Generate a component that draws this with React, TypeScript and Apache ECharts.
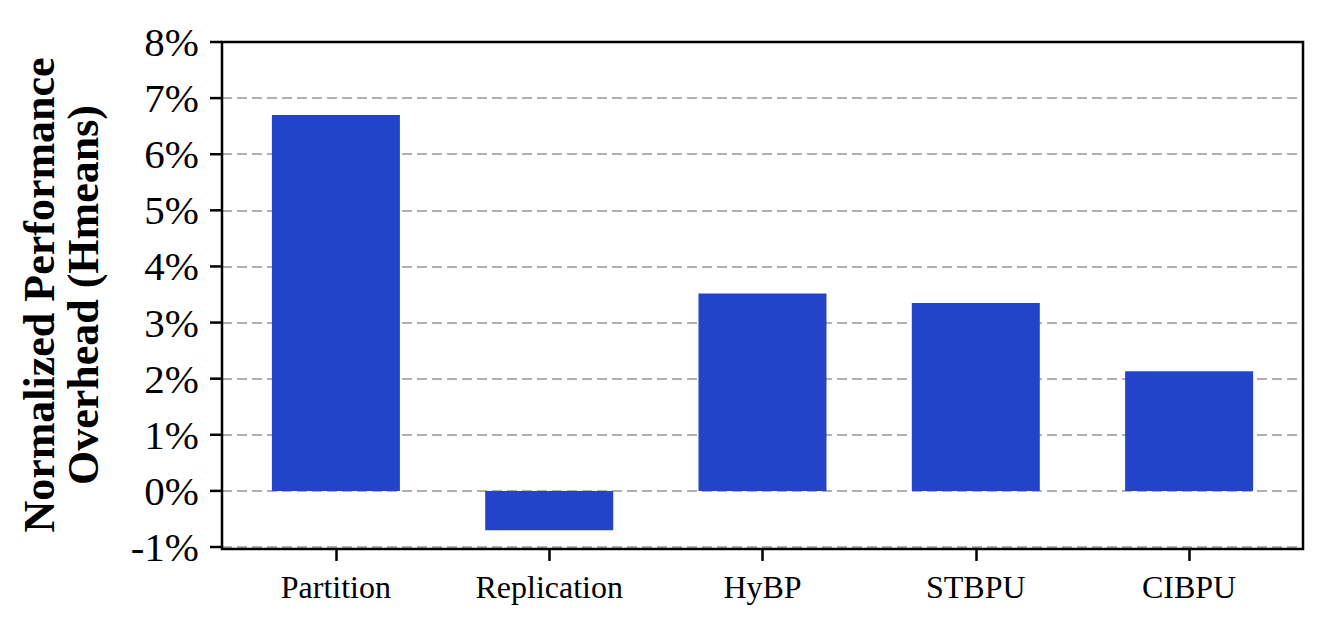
import React, { useEffect, useRef } from "react";
import * as echarts from "echarts";

const categories = ["Partition", "Replication", "HyBP", "STBPU", "CIBPU"];
const overheadValues = [6.7, -0.7, 3.52, 3.35, 2.13];
const yTicks = [-1, 0, 1, 2, 3, 4, 5, 6, 7, 8];
const yTitle = "Normalized Performance\nOverhead (Hmeans)";

const FONT = "'Liberation Serif', 'Times New Roman', serif";
const X_MIN = -0.534;
const X_MAX = 4.534;

export default function App() {
  const ref = useRef<HTMLDivElement>(null);
  useEffect(() => {
    if (!ref.current) return;
    const chart = echarts.init(ref.current, null, { renderer: "svg" });
    const xPositions = categories.map((_, i) => i);
    chart.setOption({
      animation: false,
      backgroundColor: "#ffffff",
      grid: { left: 222, right: 26, top: 42, bottom: 86, containLabel: false },
      xAxis: {
        type: "value",
        min: X_MIN,
        max: X_MAX,
        offset: 2,
        axisLine: { show: false, onZero: false },
        axisTick: {
          show: true,
          customValues: xPositions,
          length: 12,
          lineStyle: { color: "#000", width: 2.5 },
        },
        axisLabel: {
          show: true,
          customValues: xPositions,
          margin: 22,
          fontFamily: FONT,
          fontSize: 32,
          color: "#000",
          formatter: (v: number) => categories[Math.round(v)] ?? "",
        },
        splitLine: { show: false },
      },
      yAxis: {
        type: "value",
        position: "left",
        min: yTicks[0],
        max: yTicks[yTicks.length - 1],
        interval: 1,
        axisLine: { show: false, onZero: false },
        axisTick: { show: false },
        axisLabel: {
          margin: 23,
          fontFamily: FONT,
          fontSize: 41,
          color: "#000",
          formatter: (v: number) => `${v}%`,
        },
        splitLine: {
          show: true,
          lineStyle: { color: "#b0b0b0", width: 2, type: [10, 5] },
        },
      },
      series: [
        {
          type: "bar",
          data: overheadValues.map((v, i) => [xPositions[i], v]),
          barWidth: 128,
          itemStyle: { color: "#2344c8" },
          z: 3,
        },
        {
          type: "custom",
          silent: true,
          clip: false,
          z: 10,
          data: yTicks.map((t) => [X_MIN, t]),
          encode: { x: 0, y: 1 },
          renderItem: (params: any, api: any) => {
            const p = api.coord([api.value(0), api.value(1)]);
            return {
              type: "line",
              shape: { x1: p[0] - 12, y1: p[1], x2: p[0], y2: p[1] },
              style: { stroke: "#000", lineWidth: 2.5 },
            };
          },
        },
      ],
      graphic: [
        {
          type: "rect",
          shape: { x: 222, y: 42, width: 1081, height: 507 },
          style: { fill: "none", stroke: "#000", lineWidth: 2.5 },
          z: 100,
          silent: true,
        },
        {
          type: "text",
          x: 61,
          y: 295,
          rotation: Math.PI / 2,
          style: {
            text: yTitle,
            fontFamily: FONT,
            fontWeight: "bold",
            fontSize: 44,
            lineHeight: 44,
            fill: "#000",
            align: "center",
            verticalAlign: "middle",
          },
          z: 100,
        },
      ],
    });
    return () => chart.dispose();
  }, []);
  return <div ref={ref} style={{ width: 1329, height: 633, position: "absolute", left: 0, top: 0 }} />;
}
